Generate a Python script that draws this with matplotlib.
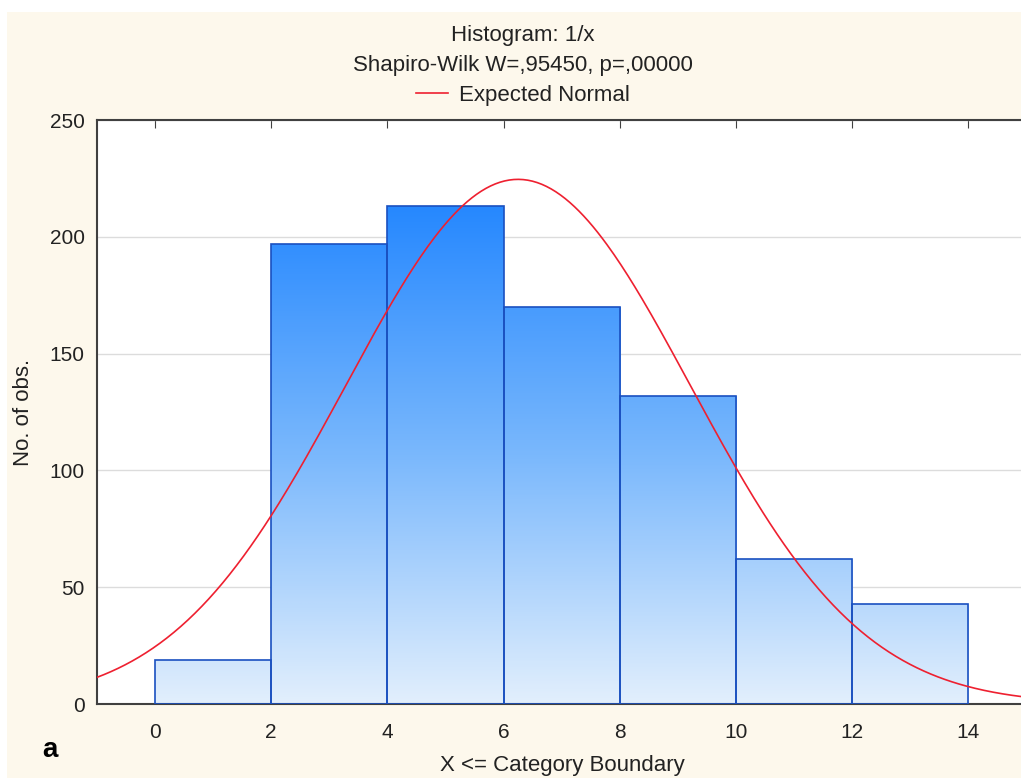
import numpy as np
import matplotlib.pyplot as plt
from matplotlib.colors import LinearSegmentedColormap
from matplotlib.patches import Rectangle

# Data
bin_edges = [0, 2, 4, 6, 8, 10, 12, 14]
counts = [19, 197, 213, 170, 132, 62, 43]
norm_mean = 6.25
norm_sd = 2.97
n_obs = sum(counts)
bin_width = 2
y_ticks = [0, 50, 100, 150, 200, 250]
x_ticks = [0, 2, 4, 6, 8, 10, 12, 14]

plt.rcParams['font.family'] = ['Liberation Sans', 'DejaVu Sans']

fig = plt.figure(figsize=(10.21, 7.78), dpi=100, facecolor='#fdf8ec')
# white strips at top and left edge
fig.patches.append(Rectangle((0, 1 - 12 / 778), 1, 12 / 778, transform=fig.transFigure,
                             facecolor='white', edgecolor='none', zorder=-10))
fig.patches.append(Rectangle((0, 0), 7 / 1021, 1, transform=fig.transFigure,
                             facecolor='white', edgecolor='none', zorder=-10))

ax = fig.add_axes([97 / 1021, 1 - 704 / 778, 1 - 97 / 1021, (704 - 120) / 778])
ax.set_facecolor('white')

cmap = LinearSegmentedColormap.from_list('bluegrad', ['#e2effd', '#7ab8fc', '#2688ff'])
vmax = max(counts)
for left, right, c in zip(bin_edges[:-1], bin_edges[1:], counts):
    bar = Rectangle((left, 0), right - left, c, facecolor='none', edgecolor='#1a50c0',
                    linewidth=1.2, zorder=3)
    ax.add_patch(bar)
    grad = np.linspace(0, c, 256).reshape(-1, 1)
    im = ax.imshow(grad, extent=[left, right, 0, c], origin='lower', aspect='auto',
                   cmap=cmap, vmin=0, vmax=vmax, zorder=2, interpolation='bilinear')
    im.set_clip_path(bar)

# expected normal curve
xs = np.linspace(-1, 15, 400)
ys = n_obs * bin_width / (norm_sd * np.sqrt(2 * np.pi)) * np.exp(-0.5 * ((xs - norm_mean) / norm_sd) ** 2)
ax.plot(xs, ys, color='#ee2030', linewidth=1.2, zorder=4, label='Expected Normal')

ax.set_xlim(-1, 14.91)
ax.set_ylim(0, 250)
ax.set_aspect('auto')
ax.set_yticks(y_ticks)
ax.set_xticks(x_ticks)
ax.yaxis.grid(True, color='#dcdcdc', linewidth=1.0, zorder=0)
ax.set_axisbelow(True)

for s in ['left', 'top', 'bottom']:
    ax.spines[s].set_color('#404040')
    ax.spines[s].set_linewidth(1.5)
ax.spines['right'].set_visible(False)
ax.tick_params(axis='x', direction='in', top=True, bottom=False, length=6, color='#404040',
               labelsize=15, pad=14, labelcolor='#222222')
ax.tick_params(axis='y', direction='in', length=0, labelsize=15, pad=9, labelcolor='#222222')

ax.set_xlabel('X <= Category Boundary', fontsize=16, color='#222222', labelpad=11)
ax.xaxis.set_label_coords((562 - 97) / (1021 - 97), -(766 - 704) / 584)
ax.xaxis.label.set_va('center')
ax.set_ylabel('No. of obs.', fontsize=16, color='#222222', labelpad=11)

fig.text(523 / 1021, 1 - 35 / 778, 'Histogram: 1/x', ha='center', va='center', fontsize=16, color='#222222')
fig.text(523 / 1021, 1 - 65 / 778, 'Shapiro-Wilk W=,95450, p=,00000', ha='center', va='center',
         fontsize=16, color='#222222')
ax.legend(loc='center', bbox_to_anchor=((523 - 97) / (1021 - 97), 1 + 25 / 584), frameon=False,
          fontsize=16, handlelength=1.45, handletextpad=0.5, labelcolor='#222222')

fig.text(50 / 1021, 1 - 750 / 778, 'a', ha='center', va='center', fontsize=20, fontweight='bold')

fig.savefig('out.png', dpi=100, facecolor=fig.get_facecolor())
